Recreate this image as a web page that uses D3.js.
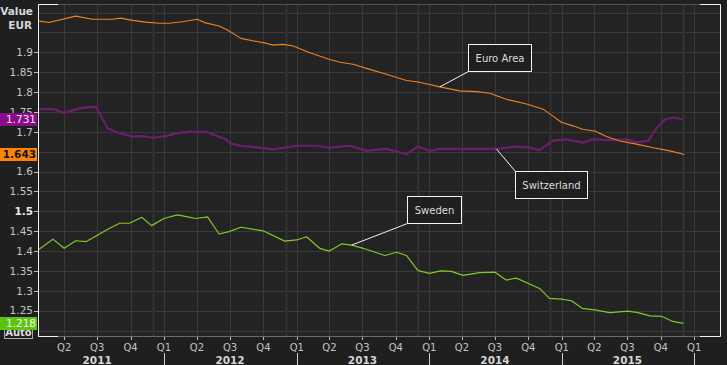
<!DOCTYPE html>
<html>
<head>
<meta charset="utf-8">
<script src="https://cdn.jsdelivr.net/npm/d3@7"></script>
<style>
  body { margin: 0; background: #1f1f1f; }
  svg { display: block; font-family: 'DejaVu Sans', sans-serif; }
</style>
</head>
<body>
<div id="chart"></div>
<script>
// data (date, value in EUR)
const euroArea = [
  ['2011-01-19', 1.979], ['2011-02-18', 1.975], ['2011-05-03', 1.991], ['2011-06-18', 1.983],
  ['2011-08-12', 1.983], ['2011-09-04', 1.986], ['2011-10-02', 1.981], ['2011-11-12', 1.976],
  ['2011-12-19', 1.973], ['2012-01-15', 1.973], ['2012-02-21', 1.977], ['2012-04-02', 1.983],
  ['2012-04-25', 1.974], ['2012-06-01', 1.966], ['2012-06-24', 1.956], ['2012-07-31', 1.935],
  ['2012-09-01', 1.929], ['2012-10-08', 1.923], ['2012-10-28', 1.918], ['2012-11-24', 1.920],
  ['2012-12-22', 1.916], ['2013-02-06', 1.899], ['2013-04-02', 1.882], ['2013-04-30', 1.875],
  ['2013-06-05', 1.870], ['2013-07-21', 1.857], ['2013-09-05', 1.845], ['2013-10-30', 1.829],
  ['2013-11-27', 1.826], ['2014-01-02', 1.819], ['2014-01-30', 1.813], ['2014-03-26', 1.803],
  ['2014-05-11', 1.801], ['2014-06-17', 1.797], ['2014-06-26', 1.794], ['2014-08-01', 1.782],
  ['2014-09-26', 1.770], ['2014-11-11', 1.757], ['2014-12-04', 1.742], ['2014-12-31', 1.724],
  ['2015-02-01', 1.715], ['2015-03-01', 1.706], ['2015-04-02', 1.702], ['2015-05-04', 1.688],
  ['2015-06-10', 1.677], ['2015-07-26', 1.669], ['2015-09-10', 1.660], ['2015-10-26', 1.652],
  ['2015-12-05', 1.643]
]
const switzerland = [
  ['2011-01-19', 1.757], ['2011-03-04', 1.757], ['2011-04-01', 1.747], ['2011-05-13', 1.759],
  ['2011-06-09', 1.762], ['2011-06-28', 1.762], ['2011-07-30', 1.709], ['2011-08-26', 1.698],
  ['2011-10-07', 1.688], ['2011-11-03', 1.689], ['2011-12-01', 1.685], ['2012-01-06', 1.689],
  ['2012-02-03', 1.696], ['2012-03-11', 1.700], ['2012-04-25', 1.700], ['2012-06-20', 1.681],
  ['2012-07-01', 1.671], ['2012-07-28', 1.665], ['2012-08-20', 1.663], ['2012-10-28', 1.656],
  ['2013-01-01', 1.665], ['2013-02-24', 1.665], ['2013-04-02', 1.660], ['2013-05-27', 1.665],
  ['2013-07-12', 1.652], ['2013-09-05', 1.657], ['2013-10-30', 1.644], ['2013-12-01', 1.663],
  ['2014-01-02', 1.652], ['2014-01-30', 1.657], ['2014-07-05', 1.657], ['2014-08-29', 1.663],
  ['2014-10-05', 1.660], ['2014-11-01', 1.654], ['2014-12-08', 1.678], ['2015-01-14', 1.681],
  ['2015-03-01', 1.673], ['2015-03-28', 1.681], ['2015-05-13', 1.679], ['2015-06-28', 1.681],
  ['2015-07-26', 1.674], ['2015-08-27', 1.677], ['2015-09-19', 1.709], ['2015-10-12', 1.731],
  ['2015-11-04', 1.736], ['2015-12-02', 1.731]
]
const sweden = [
  ['2011-01-19', 1.403], ['2011-03-01', 1.430], ['2011-04-01', 1.407], ['2011-05-03', 1.426],
  ['2011-06-01', 1.424], ['2011-06-28', 1.438], ['2011-07-30', 1.455], ['2011-09-01', 1.470],
  ['2011-09-28', 1.470], ['2011-11-01', 1.485], ['2011-11-28', 1.464], ['2012-01-01', 1.482],
  ['2012-02-07', 1.491], ['2012-03-06', 1.486], ['2012-03-29', 1.482], ['2012-04-30', 1.486],
  ['2012-06-01', 1.443], ['2012-06-28', 1.449], ['2012-07-31', 1.460], ['2012-09-01', 1.455],
  ['2012-09-30', 1.451], ['2012-11-29', 1.425], ['2013-01-01', 1.428], ['2013-01-28', 1.436],
  ['2013-03-05', 1.407], ['2013-04-01', 1.400], ['2013-05-04', 1.418], ['2013-06-01', 1.415],
  ['2013-07-03', 1.407], ['2013-09-01', 1.389], ['2013-10-03', 1.397], ['2013-10-30', 1.389],
  ['2013-12-01', 1.351], ['2014-01-02', 1.344], ['2014-02-01', 1.350], ['2014-03-03', 1.349],
  ['2014-04-04', 1.339], ['2014-05-20', 1.346], ['2014-07-01', 1.347], ['2014-08-01', 1.327],
  ['2014-08-29', 1.332], ['2014-11-01', 1.306], ['2014-11-28', 1.281], ['2014-12-31', 1.279],
  ['2015-01-28', 1.275], ['2015-02-26', 1.256], ['2015-04-02', 1.252], ['2015-05-13', 1.245],
  ['2015-07-02', 1.249], ['2015-07-30', 1.245], ['2015-09-01', 1.237], ['2015-10-03', 1.236],
  ['2015-10-31', 1.224], ['2015-12-02', 1.218]
]
// 1.65 and 1.2 sit under the last-value badges, so they are left out
const yTickLabels = [1.25, 1.3, 1.35, 1.4, 1.45, 1.5, 1.55, 1.6, 1.7, 1.75, 1.8, 1.85, 1.9]
const yGridValues = [1.2, 1.25, 1.3, 1.35, 1.4, 1.45, 1.5, 1.55, 1.6, 1.65, 1.7, 1.75, 1.8, 1.85, 1.9, 1.95, 2.0]
const yearLabels = [2011, 2012, 2013, 2014, 2015]
const markerDates = ['2011-12-01', '2012-12-01', '2013-12-01', '2014-12-01', '2015-12-01']

const series = [
  { name: 'Switzerland', data: switzerland, color: '#6b1e6d', width: 2.2, badge: '#8a0c8c', badgeText: '#f0f0f0', bold: false },
  { name: 'Euro Area', data: euroArea, color: '#ee8420', width: 1.1, badge: '#ff8400', badgeText: '#111', bold: true },
  { name: 'Sweden', data: sweden, color: '#82c826', width: 1.2, badge: '#5cc40c', badgeText: '#f4f4f4', bold: false }
]
// annotation boxes: anchor point on the line, box offset from it
const annotations = [
  { text: 'Euro Area', date: '2014-01-30', value: 1.813, dx: 28, dy: -16, corner: 'bottom' },
  { text: 'Switzerland', date: '2014-07-05', value: 1.657, dx: 19, dy: 22, corner: 'top' },
  { text: 'Sweden', date: '2013-06-01', value: 1.415, dx: 55, dy: -22, corner: 'bottom' }
]

const W = 727, H = 365
const plotLeft = 38, plotRight = 720, plotTop = 4, plotBottom = 336
const parse = d3.timeParse('%Y-%m-%d')

const x = d3.scaleTime()
  .domain([parse('2011-01-19'), parse('2016-03-12')])
  .range([plotLeft, plotRight])
const y = d3.scaleLinear()
  .domain([1.1864, 2.0215])
  .range([plotBottom, plotTop])

const svg = d3.select('#chart').append('svg').attr('width', W).attr('height', H)
svg.append('rect').attr('width', W).attr('height', H).attr('fill', '#1f1f1f')
svg.append('rect').attr('x', plotLeft).attr('y', plotTop).attr('width', plotRight - plotLeft).attr('height', plotBottom - plotTop).attr('fill', '#232323')

const defs = svg.append('defs')
defs.append('clipPath').attr('id', 'plotclip').append('rect')
  .attr('x', plotLeft).attr('y', plotTop).attr('width', plotRight - plotLeft).attr('height', plotBottom - plotTop)

const grid = svg.append('g').attr('clip-path', 'url(#plotclip)')
// horizontal grid
grid.selectAll('.hg').data(yGridValues).enter().append('line')
  .attr('x1', plotLeft).attr('x2', plotRight)
  .attr('y1', d => Math.round(y(d)) + 0.5).attr('y2', d => Math.round(y(d)) + 0.5)
  .attr('stroke', '#393939')
// quarter grid
const quarters = d3.timeMonth.every(3).range(x.domain()[0], x.domain()[1])
grid.selectAll('.vg').data(quarters).enter().append('line')
  .attr('x1', d => Math.round(x(d)) + 0.5).attr('x2', d => Math.round(x(d)) + 0.5)
  .attr('y1', plotTop).attr('y2', plotBottom)
  .attr('stroke', '#393939')
// darker year-end markers
grid.selectAll('.mk').data(markerDates.map(parse)).enter().append('rect')
  .attr('x', d => Math.round(x(d)) - 1).attr('width', 3)
  .attr('y', plotTop).attr('height', plotBottom - plotTop)
  .attr('fill', '#2b2b2b')
grid.selectAll('.mk2').data(markerDates.map(parse)).enter().append('line')
  .attr('x1', d => Math.round(x(d)) + 0.5).attr('x2', d => Math.round(x(d)) + 0.5)
  .attr('y1', plotTop).attr('y2', plotBottom)
  .attr('stroke', '#333')

// lines
const line = d3.line().x(d => x(parse(d[0]))).y(d => y(d[1]))
const lines = svg.append('g').attr('clip-path', 'url(#plotclip)')
series.forEach(s => {
  lines.append('path')
    .datum(s.data)
    .attr('d', line)
    .attr('fill', 'none')
    .attr('stroke', s.color)
    .attr('stroke-width', s.width)
    .attr('stroke-linejoin', 'round')
})

// frame
svg.append('line').attr('x1', plotLeft).attr('x2', plotRight).attr('y1', plotTop + 0.5).attr('y2', plotTop + 0.5).attr('stroke', '#555')
svg.append('line').attr('x1', plotLeft).attr('x2', plotRight).attr('y1', plotBottom + 0.5).attr('y2', plotBottom + 0.5).attr('stroke', '#6a6a6a')
const frame = svg.append('g').attr('stroke', '#f2f2f2').attr('fill', 'none')
frame.append('path').attr('d', `M${plotLeft + 20},${plotTop + 0.5}H${plotLeft + 0.5}V${plotBottom + 0.5}H${plotLeft + 20}`)
frame.append('path').attr('d', `M${plotRight - 20},${plotTop + 0.5}H${plotRight + 0.5}V${plotBottom + 0.5}H${plotRight - 20}`)

// y axis
const yAxis = svg.append('g')
yAxis.selectAll('.yt').data(yTickLabels).enter().append('line')
  .attr('x1', plotLeft - 4).attr('x2', plotLeft)
  .attr('y1', d => Math.round(y(d)) + 0.5).attr('y2', d => Math.round(y(d)) + 0.5)
  .attr('stroke', '#bbb')
yAxis.selectAll('.yl').data(yTickLabels).enter().append('text')
  .attr('x', plotLeft - 5)
  .attr('y', d => y(d))
  .attr('dy', '0.36em')
  .attr('text-anchor', 'end')
  .attr('fill', d => d === 1.5 ? '#e8e8e8' : '#c4c4c4')
  .style('font-size', '10.5px')
  .style('font-weight', d => d === 1.5 ? 'bold' : 'normal')
  .text(d => d3.format('')(d))

svg.append('text').attr('x', 33).attr('y', 15).attr('text-anchor', 'end')
  .attr('fill', '#d6d6d6').style('font-size', '10.5px').style('font-weight', 'bold').text('Value')
svg.append('text').attr('x', 32).attr('y', 29).attr('text-anchor', 'end')
  .attr('fill', '#d6d6d6').style('font-size', '10.5px').style('font-weight', 'bold').text('EUR')

// x axis
const xAxis = svg.append('g')
xAxis.selectAll('.xt').data(quarters).enter().append('line')
  .attr('x1', d => Math.round(x(d)) + 0.5).attr('x2', d => Math.round(x(d)) + 0.5)
  .attr('y1', plotBottom + 1).attr('y2', plotBottom + 4)
  .attr('stroke', '#bbb')
xAxis.selectAll('.xl').data(quarters).enter().append('text')
  .attr('x', d => x(d))
  .attr('y', 351)
  .attr('text-anchor', 'middle')
  .attr('fill', '#c4c4c4')
  .style('font-size', '10px')
  .text(d => 'Q' + (Math.floor(d.getMonth() / 3) + 1))
const yearStarts = quarters.filter(d => d.getMonth() === 0)
xAxis.selectAll('.ys').data(yearStarts).enter().append('line')
  .attr('x1', d => Math.round(x(d)) + 0.5).attr('x2', d => Math.round(x(d)) + 0.5)
  .attr('y1', 353).attr('y2', H)
  .attr('stroke', '#d0d0d0')
xAxis.selectAll('.yr').data(yearLabels).enter().append('text')
  .attr('x', d => x(new Date(d, 6, 1)))
  .attr('y', 364)
  .attr('text-anchor', 'middle')
  .attr('fill', '#d6d6d6')
  .style('font-size', '10.5px')
  .style('font-weight', 'bold')
  .text(d => d)

// "Auto" box, half hidden under the last badge
const auto = svg.append('g')
auto.append('rect').attr('x', 4.5).attr('y', 326.5).attr('width', 28).attr('height', 12)
  .attr('fill', '#1f1f1f').attr('stroke', '#aaa')
auto.append('text').attr('x', 18.5).attr('y', 336).attr('text-anchor', 'middle')
  .attr('fill', '#ddd').style('font-size', '10px').style('font-weight', 'bold').text('Auto')

// last value badges
series.forEach(s => {
  const last = s.data[s.data.length - 1][1]
  const cy = y(last)
  svg.append('rect').attr('x', 0).attr('y', Math.round(cy - 6.5)).attr('width', 37).attr('height', 13).attr('fill', s.badge)
  svg.append('text').attr('x', 36).attr('y', cy).attr('dy', '0.36em').attr('text-anchor', 'end')
    .attr('fill', s.badgeText)
    .style('font-size', '10.5px')
    .style('font-weight', s.bold ? 'bold' : 'normal')
    .text(d3.format('.3f')(last))
})

// annotation boxes
annotations.forEach(a => {
  const ax = x(parse(a.date)), ay = y(a.value)
  const g = svg.append('g')
  const t = g.append('text').attr('fill', '#dcdcdc').style('font-size', '10px').text(a.text)
  const tw = t.node().getComputedTextLength()
  const bw = Math.round(tw + 14), bh = 27
  const bx = Math.round(ax + a.dx) + 0.5
  const by = Math.round(a.corner === 'bottom' ? ay + a.dy - bh : ay + a.dy) + 0.5
  const cx = bx, cy = a.corner === 'bottom' ? by + bh : by
  g.insert('line', 'text').attr('x1', ax).attr('y1', ay).attr('x2', cx).attr('y2', cy).attr('stroke', '#f4f4f4')
  g.insert('rect', 'text').attr('x', bx).attr('y', by).attr('width', bw).attr('height', bh)
    .attr('fill', '#1f1f1f').attr('stroke', '#f4f4f4')
  t.attr('x', bx + bw / 2).attr('y', by + bh / 2).attr('dy', '0.36em').attr('text-anchor', 'middle')
})
</script>
</body>
</html>
